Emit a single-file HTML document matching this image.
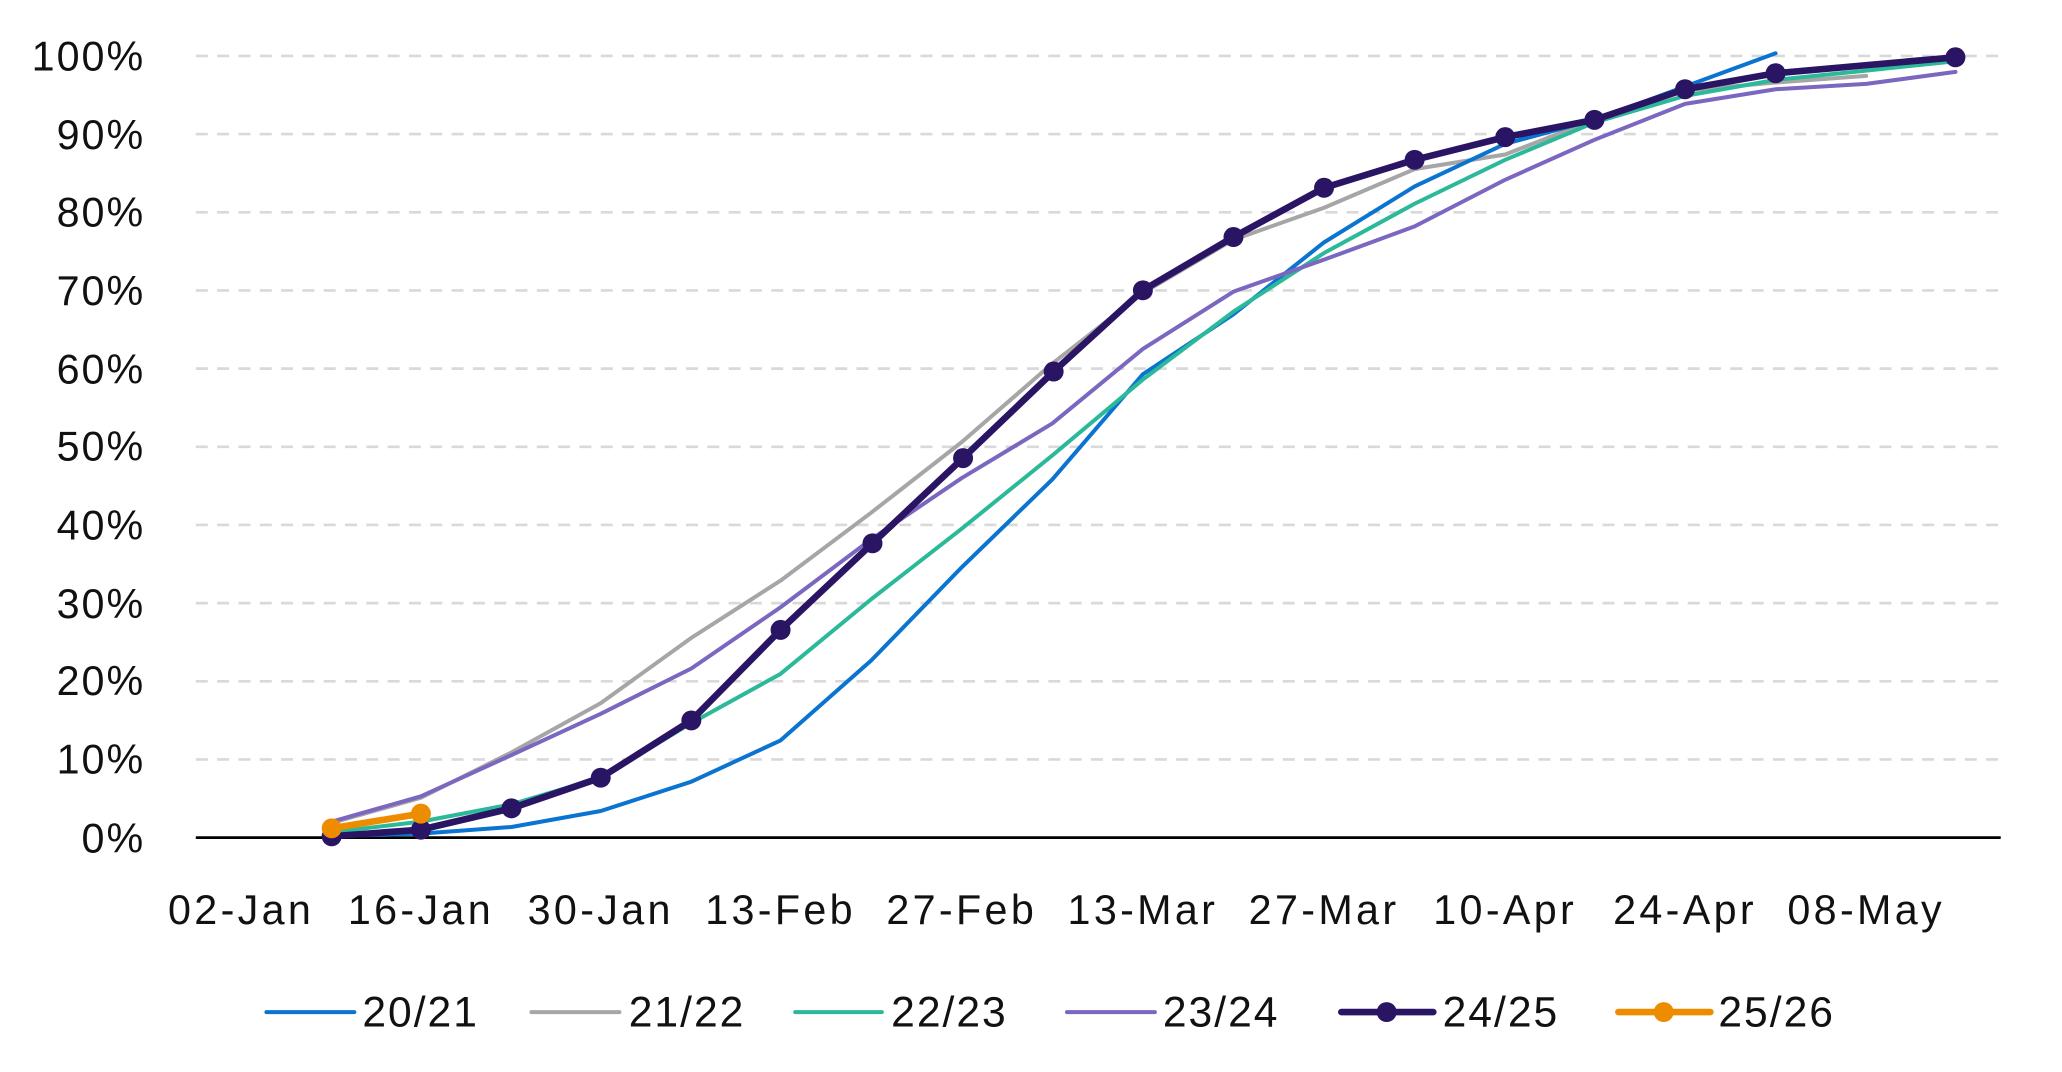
<!DOCTYPE html>
<html><head><meta charset="utf-8"><style>
html,body{margin:0;padding:0;background:#fff;}
svg{display:block;}
text{font-family:"Liberation Sans",sans-serif;fill:#111;}
</style></head><body>
<svg width="2062" height="1072" viewBox="0 0 1548 805" preserveAspectRatio="none" xmlns="http://www.w3.org/2000/svg">
<g stroke="#d9d9d9" stroke-width="2" stroke-dasharray="9,7">
<line x1="147" y1="42" x2="1502" y2="42"/><line x1="147" y1="100.7" x2="1502" y2="100.7"/>
<line x1="147" y1="159.4" x2="1502" y2="159.4"/><line x1="147" y1="218.1" x2="1502" y2="218.1"/>
<line x1="147" y1="276.8" x2="1502" y2="276.8"/><line x1="147" y1="335.5" x2="1502" y2="335.5"/>
<line x1="147" y1="394.2" x2="1502" y2="394.2"/><line x1="147" y1="452.9" x2="1502" y2="452.9"/>
<line x1="147" y1="511.6" x2="1502" y2="511.6"/><line x1="147" y1="570.3" x2="1502" y2="570.3"/>
</g>
<line x1="147" y1="629" x2="1502" y2="629" stroke="#000" stroke-width="2"/>
<g font-size="31" text-anchor="end" letter-spacing="1.5">
<text x="109" y="53">100%</text><text x="109" y="112">90%</text><text x="109" y="170">80%</text>
<text x="109" y="229">70%</text><text x="109" y="288">60%</text><text x="109" y="346">50%</text>
<text x="109" y="405">40%</text><text x="109" y="464">30%</text><text x="109" y="522">20%</text>
<text x="109" y="581">10%</text><text x="109" y="640">0%</text>
</g>
<g font-size="31" text-anchor="middle" letter-spacing="2.5">
<text x="181" y="694">02-Jan</text><text x="316" y="694">16-Jan</text><text x="451" y="694">30-Jan</text>
<text x="586" y="694">13-Feb</text><text x="722" y="694">27-Feb</text><text x="858" y="694">13-Mar</text>
<text x="994" y="694">27-Mar</text><text x="1130" y="694">10-Apr</text><text x="1265" y="694">24-Apr</text>
<text x="1401" y="694">08-May</text>
</g>
<g fill="none" stroke-linejoin="round" stroke-linecap="round">
<polyline stroke="#a6a6a6" stroke-width="3" points="249,618 316,599 384,565 451,528 519,479 586,436 654,385 722,332 790,273 858,220 926,180 994,156 1062,127 1130,116 1197,90 1265,68 1333,62 1401,57"/>
<polyline stroke="#0a74d0" stroke-width="3" points="249,628 316,626 384,621 451,609 519,587 586,556 654,496 722,426 790,360 858,281 926,236 994,182 1062,140 1130,108 1197,90 1265,65 1333,40"/>
<polyline stroke="#2bb99a" stroke-width="3" points="249,625 316,617 384,604 451,584 519,543 586,506 654,450 722,397 790,342 858,285 926,234 994,190 1062,153 1130,120 1197,92 1265,72 1333,60 1401,53 1468,46"/>
<polyline stroke="#7b66c0" stroke-width="3" points="249,617 316,598 384,567 451,536 519,502 586,456 654,405 722,359 790,318 858,262 926,219 994,195 1062,170 1130,135 1197,105 1265,78 1333,67 1401,63 1468,54"/>
<polyline stroke="#2a1464" stroke-width="5" points="249,628 316,623 384,607 451,584 519,541 586,473 655,408 723,344 791,279 858,218 926,178 994,141 1062,120 1130,103 1197,90 1265,67 1333,55 1468,43"/>
<polyline stroke="#ee8c00" stroke-width="5" points="249,622 316,611"/>
</g>
<g fill="#2a1464">
<circle cx="249" cy="628" r="7.5"/><circle cx="316" cy="623" r="7.5"/><circle cx="384" cy="607" r="7.5"/><circle cx="451" cy="584" r="7.5"/><circle cx="519" cy="541" r="7.5"/><circle cx="586" cy="473" r="7.5"/><circle cx="655" cy="408" r="7.5"/><circle cx="723" cy="344" r="7.5"/><circle cx="791" cy="279" r="7.5"/><circle cx="858" cy="218" r="7.5"/><circle cx="926" cy="178" r="7.5"/><circle cx="994" cy="141" r="7.5"/><circle cx="1062" cy="120" r="7.5"/><circle cx="1130" cy="103" r="7.5"/><circle cx="1197" cy="90" r="7.5"/><circle cx="1265" cy="67" r="7.5"/><circle cx="1333" cy="55" r="7.5"/><circle cx="1468" cy="43" r="7.5"/>
</g>
<g fill="#ee8c00"><circle cx="249" cy="622" r="7.5"/><circle cx="316" cy="611" r="7.5"/></g>
<g stroke-linecap="round">
<line x1="200" y1="760" x2="266" y2="760" stroke="#0a74d0" stroke-width="3"/>
<line x1="399" y1="760" x2="465" y2="760" stroke="#a6a6a6" stroke-width="3"/>
<line x1="597" y1="760" x2="662" y2="760" stroke="#2bb99a" stroke-width="3"/>
<line x1="801" y1="760" x2="867" y2="760" stroke="#7b66c0" stroke-width="3"/>
<line x1="1007" y1="760" x2="1076" y2="760" stroke="#2a1464" stroke-width="5"/>
<line x1="1215" y1="760" x2="1284" y2="760" stroke="#ee8c00" stroke-width="5"/>
</g>
<circle cx="1041" cy="760" r="7.5" fill="#2a1464"/><circle cx="1249" cy="760" r="7.5" fill="#ee8c00"/>
<g font-size="32" letter-spacing="1.5">
<text x="272" y="771">20/21</text><text x="472" y="771">21/22</text><text x="669" y="771">22/23</text>
<text x="873" y="771">23/24</text><text x="1083" y="771">24/25</text><text x="1290" y="771">25/26</text>
</g>
</svg>
</body></html>
